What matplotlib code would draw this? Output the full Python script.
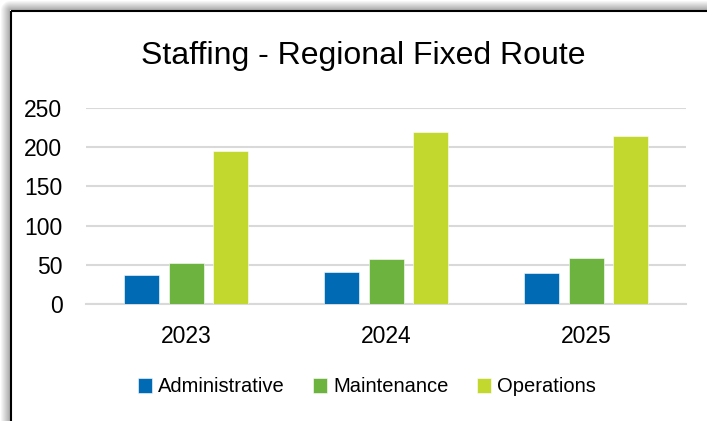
import matplotlib
matplotlib.use("Agg")
import matplotlib.pyplot as plt
import matplotlib.patches as patches
from matplotlib import font_manager
import numpy as np

# data
years = ["2023", "2024", "2025"]
series_names = ["Administrative", "Maintenance", "Operations"]
administrative = [37, 41, 40]
maintenance = [52, 57, 59]
operations = [195, 220, 214]
y_ticks = [0, 50, 100, 150, 200, 250]

colors = ["#006AB5", "#6DB33F", "#C2D82F"]
grid_color = "#D9D9D9"

# condensed font if available
names = {f.name for f in font_manager.fontManager.ttflist}
font = "Liberation Sans Narrow" if "Liberation Sans Narrow" in names else "Liberation Sans"
plt.rcParams["font.family"] = [font, "DejaVu Sans"]

W, H = 707, 421
fig = plt.figure(figsize=(W / 100, H / 100), dpi=100)

# background with drop shadow and black frame
bg = fig.add_axes([0, 0, 1, 1], zorder=-1)
img = np.ones((H, W, 3))
yy, xx = np.mgrid[0:H, 0:W]
dx = np.clip(10 - xx, 0, None)
dy = np.clip(10 - yy, 0, None)
d = np.sqrt(dx ** 2 + dy ** 2)
outside = (xx < 10) | (yy < 10)
shade = np.where(outside, 1 - 0.35 * np.clip(1 - d / 10, 0, 1), 1.0)
img = img * shade[..., None]
bg.imshow(img, extent=[0, W, H, 0], aspect="auto", interpolation="bilinear")
bg.add_patch(patches.Rectangle((11, 11), 900, 600, fill=False, ec="black", lw=1.5))
bg.set_xlim(0, W)
bg.set_ylim(H, 0)
bg.axis("off")

# main chart axes
ax = fig.add_axes([86 / W, 1 - 304 / H, 600 / W, 196 / H])
x = np.arange(len(years))
bar_w = 0.175
step = 0.222
data = [administrative, maintenance, operations]
for i, (name, vals, c) in enumerate(zip(series_names, data, colors)):
    ax.bar(x + (i - 1) * step, vals, width=bar_w, color=c, label=name,
           edgecolor="white", linewidth=0.4, zorder=3)

ax.set_xlim(-0.5, len(years) - 0.5)
ax.set_ylim(0, 250)
ax.set_yticks(y_ticks)
ax.set_xticks(x)
ax.set_xticklabels(years)
ax.tick_params(axis="both", length=0, labelsize=16.5, colors="black")
ax.tick_params(axis="y", pad=17)
ax.tick_params(axis="x", pad=15)
ax.yaxis.grid(True, color=grid_color, lw=1.5, zorder=0)
for s in ["top", "right", "left"]:
    ax.spines[s].set_visible(False)
ax.spines["bottom"].set_color(grid_color)
ax.spines["bottom"].set_linewidth(1.5)

fig.text(363 / W, 1 - 56 / H, "Staffing - Regional Fixed Route",
         ha="center", va="center", fontsize=23)

fig.legend(loc="center", bbox_to_anchor=(367 / W, 1 - 387 / H), ncol=3,
           frameon=False, fontsize=14.5, handlelength=0.7, handleheight=0.7,
           handletextpad=0.3, columnspacing=1.4)

fig.savefig("out.png", dpi=100)
